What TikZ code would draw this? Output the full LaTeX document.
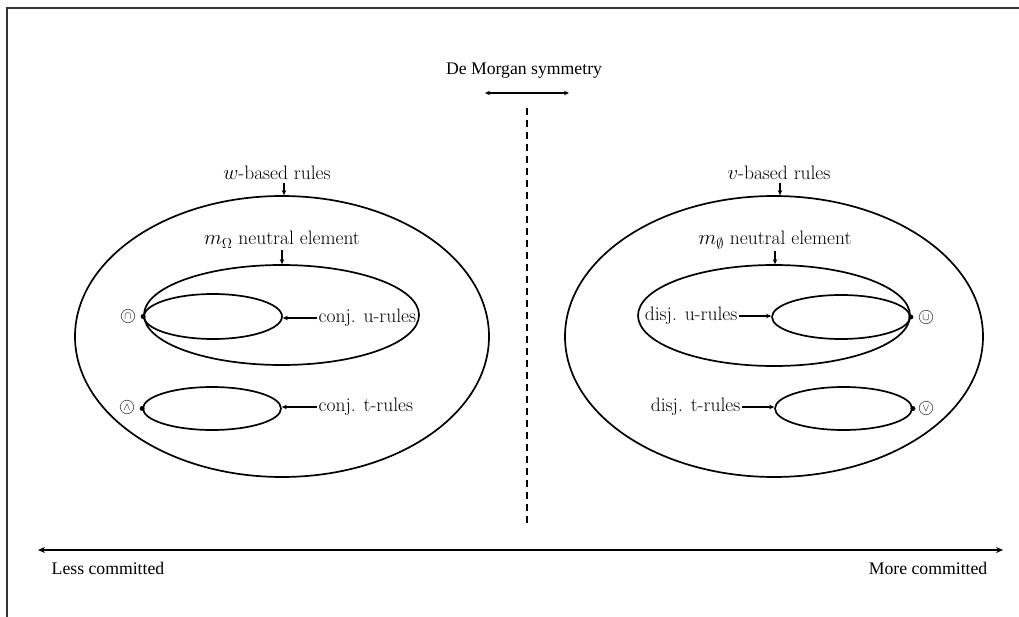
\documentclass[tikz,border=0pt]{standalone}
\usepackage{fontspec}
\newfontfamily\timesf{Liberation Serif}
\usetikzlibrary{shapes.geometric,arrows.meta}
\begin{document}
\begin{tikzpicture}[x=1pt,y=-1pt,
  ring/.style={ellipse,draw,line width=1.7pt,inner sep=0pt},
  lbl/.style={font=\fontsize{19.5}{22}\selectfont,inner sep=1.5pt},
  tlbl/.style={font=\timesf\fontsize{17.7}{20}\selectfont,inner sep=1.5pt},
  arr/.style={line width=1.8pt,-{Stealth[length=5pt,width=4.5pt]}},
  harr/.style={line width=2.2pt,-{Stealth[length=5pt,width=4.5pt]}},
  dbl/.style={line width=1.8pt,{Stealth[length=5pt,width=4.5pt]}-{Stealth[length=5pt,width=4.5pt]}},
  sym/.style={circle,draw=black!65,line width=0.7pt,inner sep=0pt,minimum size=13.5pt,font=\fontsize{11}{11}\selectfont},
  dotc/.style={circle,fill,inner sep=0pt,minimum size=5pt}]
\useasboundingbox (0,0) rectangle (1019,617);
\draw[line width=1.3pt,black!80] (7,617) -- (7,8) -- (1019,8);

% top
\node[tlbl] (dm) at (524,71) {De Morgan symmetry};
\coordinate (dmL) at (485,93);
\coordinate (dmR) at (569,93);
\draw[dbl] (dmL) -- (dmR);
\coordinate (dashT) at (527,108);
\coordinate (dashB) at (527,527);
\draw[line width=2pt,dash pattern=on 7pt off 5pt] (dashT) -- (dashB);

% left
\node[ring,minimum width=414pt,minimum height=281pt] (oL) at (282,336.5) {};
\node[ring,minimum width=275pt,minimum height=100pt] (mL) at (281.5,315) {};
\node[ring,minimum width=138pt,minimum height=45pt] (uL) at (213,316.5) {};
\node[ring,minimum width=138pt,minimum height=43pt] (tL) at (212,408.5) {};
\node[dotc] at (uL.west) {};
\node[dotc] at (tL.west) {};
\node[sym] (capS) at (128,316) {$\cap$};
\node[sym] (wedS) at (127,407) {$\wedge$};
\node[lbl,anchor=base] (wl) at (277,180) {$w$-based rules};
\coordinate (wla) at (284,183);
\draw[arr] (wla) -- (wla |- oL.north);
\node[lbl,anchor=base] (ml) at (282,245) {$m_\Omega$ neutral element};
\draw[arr] (ml.south) -- (ml.south |- mL.north);
\node[lbl,anchor=west] (cu) at (317,318) {conj. u-rules};
\draw[harr] (cu.west) -- (uL.east |- cu.west);
\node[lbl,anchor=west] (ct) at (317,407) {conj. t-rules};
\draw[harr] (ct.west) -- (tL.east |- ct.west);

% right
\node[ring,minimum width=418pt,minimum height=281pt] (oR) at (774,336.5) {};
\node[ring,minimum width=272pt,minimum height=101pt] (mR) at (774,315.5) {};
\node[ring,minimum width=138pt,minimum height=44pt] (uR) at (841,317) {};
\node[ring,minimum width=137pt,minimum height=43pt] (tR) at (843.5,408.5) {};
\node[dotc] at (uR.east) {};
\node[dotc] at (tR.east) {};
\node[sym] (cupS) at (926,317) {$\cup$};
\node[sym] (veeS) at (926,408) {$\vee$};
\node[lbl,anchor=base] (vl) at (779,180) {$v$-based rules};
\coordinate (vla) at (780,183);
\draw[arr] (vla) -- (vla |- oR.north);
\node[lbl,anchor=base] (nl) at (775,245) {$m_\emptyset$ neutral element};
\draw[arr] (nl.south) -- (nl.south |- mR.north);
\node[lbl,anchor=east] (du) at (739,316) {disj. u-rules};
\draw[harr] (du.east) -- (uR.west |- du.east);
\node[lbl,anchor=east] (dt) at (742,407) {disj. t-rules};
\draw[harr] (dt.east) -- (tR.west |- dt.east);

% bottom axis
\coordinate (axL) at (38,550);
\coordinate (axR) at (1003,550);
\draw[line width=2.8pt,{Stealth[length=7pt,width=6pt]}-{Stealth[length=7pt,width=6pt]}] (axL) -- (axR);
\node[tlbl,anchor=west] (less) at (50,568) {Less committed};
\node[tlbl,anchor=east] (more) at (989,568) {More committed};
\end{tikzpicture}
\end{document}
